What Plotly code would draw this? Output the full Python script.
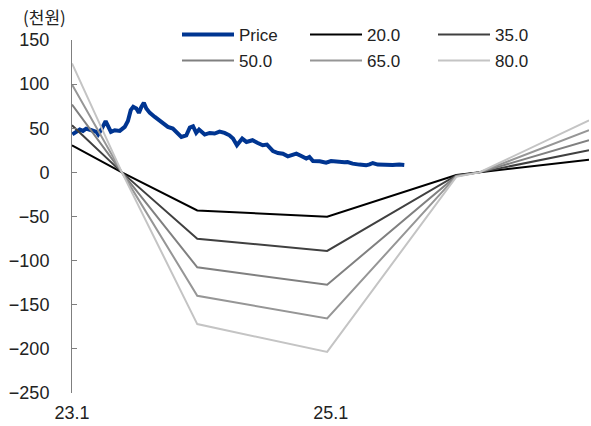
import plotly.graph_objects as go

# ---------------- data ----------------
price_dates = [
    "2023-01-02", "2023-01-09", "2023-01-23", "2023-02-01", "2023-02-10", "2023-02-25",
    "2023-03-11", "2023-03-16", "2023-03-25", "2023-04-06", "2023-04-13", "2023-04-21",
    "2023-05-02", "2023-05-16", "2023-05-30", "2023-06-08", "2023-06-16", "2023-06-23",
    "2023-07-02", "2023-07-09", "2023-07-16", "2023-07-23", "2023-07-30", "2023-08-09",
    "2023-08-23", "2023-09-11", "2023-09-29", "2023-10-13", "2023-10-28", "2023-11-06",
    "2023-11-20", "2023-11-30", "2023-12-09", "2023-12-18", "2023-12-26", "2024-01-03",
    "2024-01-11", "2024-01-25", "2024-02-08", "2024-02-22", "2024-03-07", "2024-03-21",
    "2024-03-31", "2024-04-11", "2024-04-26", "2024-05-08", "2024-05-25", "2024-06-09",
    "2024-06-23", "2024-07-05", "2024-07-22", "2024-08-05", "2024-08-19", "2024-09-02",
    "2024-09-16", "2024-09-26", "2024-10-10", "2024-10-24", "2024-11-02", "2024-11-12",
    "2024-12-01", "2024-12-19", "2025-01-02", "2025-01-21", "2025-02-09", "2025-02-18",
    "2025-03-04", "2025-03-23", "2025-04-11", "2025-04-21", "2025-04-30", "2025-05-14",
    "2025-06-02", "2025-06-25", "2025-07-14", "2025-07-28",
]
price_values = [
    43.0, 44.7, 48.5, 47.0, 49.6, 47.7,
    45.8, 43.0, 48.5, 58.0, 52.0, 45.8,
    47.7, 47.0, 51.5, 58.3, 70.5, 74.2,
    72.4, 67.4, 74.2, 78.8, 72.4, 67.4,
    62.8, 57.2, 51.5, 49.6, 44.0, 40.1,
    42.0, 50.8, 52.3, 44.7, 48.5, 45.8,
    42.8, 44.7, 44.0, 46.2, 44.7, 42.0,
    38.3, 30.7, 38.3, 34.5, 36.4, 33.3,
    30.7, 31.5, 24.2, 21.9, 21.2, 18.2,
    19.3, 21.2, 18.5, 15.6, 17.4, 12.8,
    12.5, 11.0, 12.8, 11.7, 11.4, 11.7,
    9.9, 8.8, 8.0, 9.1, 10.6, 8.8,
    8.3, 8.3, 8.8, 8.3,
]

scenario_dates = ["2023-01-01", "2023-05-22", "2023-12-21", "2024-12-22",
                  "2025-12-22", "2026-02-25", "2027-01-01"]
scenario_levels = [20, 35, 50, 65, 80]
scen_20 = [30.7, 0, -43.2, -50.3, -3.0, 0, 14.4]
scen_35 = [53.4, 0, -75.3, -89.0, -3.5, 0, 25.0]
scen_50 = [76.9, 0, -107.6, -127.3, -4.0, 0, 36.4]
scen_65 = [99.6, 0, -139.8, -165.6, -4.5, 0, 47.7]
scen_80 = [123.5, 0, -171.9, -203.4, -5.0, 0, 59.0]
scenario_values = [scen_20, scen_35, scen_50, scen_65, scen_80]
scenario_colors = ["#000000", "#404040", "#808080", "#969696", "#c4c4c4"]

x_tickvals = ["2023-01-01", "2025-01-01"]
x_ticktext = ["23.1", "25.1"]
y_tickvals = [-250, -200, -150, -100, -50, 0, 50, 100, 150]
unit_label = "(천원)"

# ---------------- figure ----------------
FONT = "Liberation Sans, Arial, sans-serif"
AXIS_GRAY = "#7f7f7f"
TXT = "#222222"
x_range = ["2023-01-01", "2027-01-01"]
PW, PH = 517, 353  # plot area size in px

fig = go.Figure()
fig.add_trace(go.Scatter(x=price_dates, y=price_values, mode="lines", name="Price",
                         legend="legend", line=dict(color="#003591", width=4)))
for i, (lvl, vals, col) in enumerate(zip(scenario_levels, scenario_values, scenario_colors)):
    fig.add_trace(go.Scatter(x=scenario_dates, y=vals, mode="lines", name=f"{lvl:.1f}",
                             legend="legend" if i < 2 else "legend2",
                             line=dict(color=col, width=2)))

leg_common = dict(orientation="h", xref="paper", yref="paper",
                  x=(177 - 72) / PW, xanchor="left", yanchor="top",
                  entrywidth=61, entrywidthmode="pixels", itemwidth=52,
                  font=dict(family=FONT, size=17, color=TXT),
                  bgcolor="rgba(0,0,0,0)", traceorder="normal")

fig.update_layout(
    width=591, height=426,
    margin=dict(l=72, r=2, t=40, b=33, autoexpand=False),
    paper_bgcolor="white", plot_bgcolor="white",
    font=dict(family=FONT, size=18, color=TXT),
    showlegend=True,
    legend=dict(leg_common, y=1 + (40 - 17) / PH),
    legend2=dict(leg_common, y=1 + (40 - 43) / PH),
    xaxis=dict(type="date", range=x_range, tickvals=x_tickvals, ticktext=x_ticktext,
               showgrid=False, zeroline=False, showline=False, ticks="",
               ticklabelstandoff=7, tickfont=dict(size=18, color=TXT)),
    xaxis2=dict(type="date", range=x_range, overlaying="x", anchor="free", position=0.625,
                tickvals=["2025-01-01"], showticklabels=False, ticks="inside", ticklen=5,
                tickcolor=AXIS_GRAY, showline=True, linecolor=AXIS_GRAY, linewidth=1,
                showgrid=False, zeroline=False),
    yaxis=dict(range=[-250, 150], tickvals=y_tickvals, showgrid=False, zeroline=False,
               showline=True, linecolor=AXIS_GRAY, linewidth=1, ticks="inside", ticklen=5,
               tickcolor=AXIS_GRAY, ticklabelstandoff=18, tickfont=dict(size=18, color=TXT)),
    annotations=[dict(text=unit_label, xref="paper", yref="paper",
                      x=(21 - 72) / PW, y=1 + (40 - 16.5) / PH,
                      xanchor="left", yanchor="middle", showarrow=False,
                      font=dict(family="Noto Sans CJK KR, sans-serif", size=17, color=TXT))],
)

fig.write_html("out.html", config={"displayModeBar": False},
               post_script="document.body.style.margin='0';document.body.style.overflow='hidden';")
